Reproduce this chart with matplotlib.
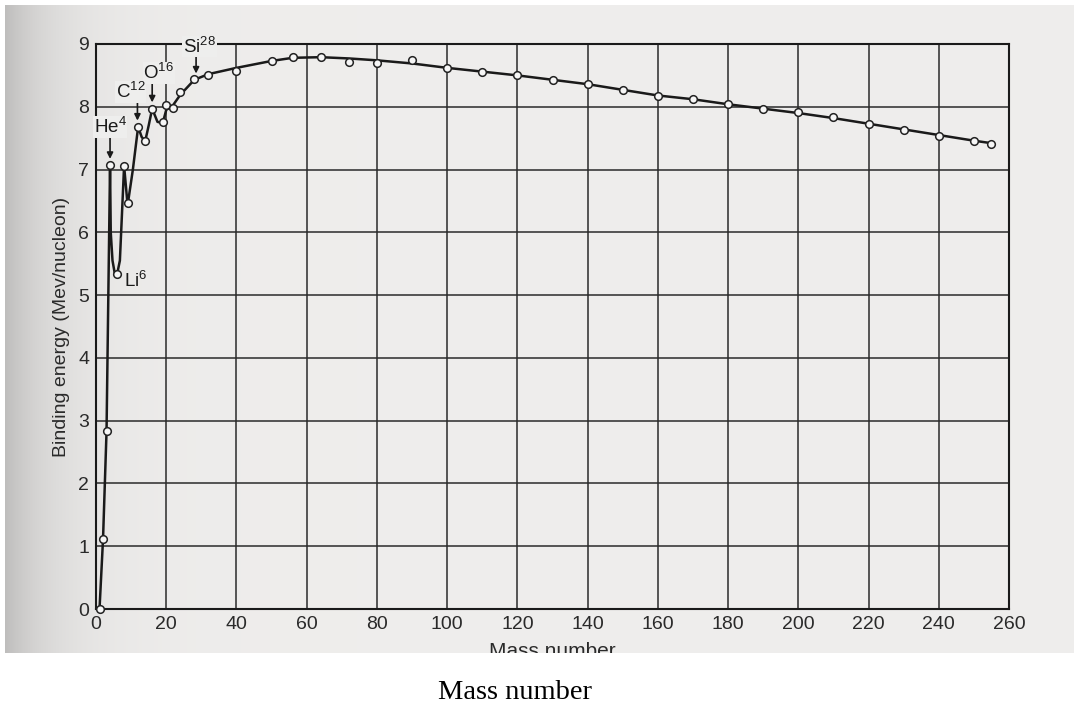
import numpy as np
import matplotlib.pyplot as plt
from matplotlib.patches import Rectangle

# points (mass number, binding energy per nucleon)
mass = [1, 2, 3, 4, 6, 8, 9, 12, 14, 16, 19, 20, 22, 24, 28, 32, 40, 50, 56,
        64, 72, 80, 90, 100, 110, 120, 130, 140, 150, 160, 170, 180, 190,
        200, 210, 220, 230, 240, 250, 255]
energy = [0.0, 1.11, 2.83, 7.07, 5.33, 7.06, 6.46, 7.68, 7.45, 7.97, 7.75,
          8.03, 7.98, 8.24, 8.44, 8.51, 8.57, 8.73, 8.79,
          8.79, 8.72, 8.69, 8.74, 8.62, 8.56, 8.50, 8.42, 8.37, 8.27, 8.17,
          8.13, 8.05, 7.97, 7.91, 7.83, 7.72, 7.63, 7.54, 7.46, 7.41]

# the drawn curve (knots)
curve_x = [1, 2, 3, 4, 4.2, 4.7, 5.3, 6, 6.8, 7.4, 8, 9, 10.5, 12, 13, 14,
           15, 16, 17.5, 19, 20, 22, 24, 28, 32, 40, 50, 56, 64, 72, 80, 90,
           100, 110, 120, 130, 140, 150, 160, 170, 180, 190, 200, 210, 220,
           230, 240, 250, 255]
curve_y = [0.0, 1.11, 2.83, 7.07, 6.0, 5.55, 5.36, 5.33, 5.55, 6.3, 7.06,
           6.43, 7.0, 7.68, 7.52, 7.45, 7.7, 7.97, 7.76, 7.74, 7.95, 8.03,
           8.19, 8.43, 8.52, 8.62, 8.73, 8.78, 8.79, 8.77, 8.74, 8.69, 8.62,
           8.56, 8.50, 8.43, 8.36, 8.27, 8.18, 8.12, 8.04, 7.97, 7.90, 7.82,
           7.73, 7.64, 7.55, 7.46, 7.42]

# element labels: text, arrow tip (x, y), text position (x, y)
labels = ['He$^4$', 'C$^{12}$', 'O$^{16}$', 'Si$^{28}$']
tips = [(4, 7.17), (11.8, 7.78), (16, 8.07), (28.5, 8.53)]
text_pos = [(4.0, 7.68), (9.8, 8.24), (17.9, 8.54), (29.5, 8.96)]

xticks = list(range(0, 261, 20))
yticks = list(range(0, 10))

plt.rcParams['font.family'] = ['Liberation Sans', 'DejaVu Sans']
plt.rcParams['mathtext.fontset'] = 'custom'
plt.rcParams['mathtext.rm'] = 'Liberation Sans'
plt.rcParams['mathtext.it'] = 'Liberation Sans'

paper = '#eeeeed'

fig = plt.figure(figsize=(10.74, 7.05), dpi=100)

# scanned page background with darker left edge
bg = fig.add_axes([0, 0, 1, 1])
bg.set_xlim(0, 1074)
bg.set_ylim(705, 0)
bg.axis('off')
xs = np.arange(1074)
shade = 0.935 - 0.17 * np.exp(-(xs - 5) / 50.0)
shade = np.clip(shade, 0, 1)
img = np.repeat(shade[None, :], 10, axis=0)
rgb = np.stack([img, img * 0.995, img * 0.99], axis=-1)
bg.imshow(rgb, extent=(5, 1074, 653, 5), aspect='auto', interpolation='bilinear')

ax = fig.add_axes([96 / 1074, 96 / 705, 913 / 1074, 565 / 705])
ax.set_facecolor('none')

ax.plot(curve_x, curve_y, color='#1a1a1a', lw=1.8, zorder=3)
ax.plot(mass, energy, 'o', ms=5.5, mfc='#f6f6f6', mec='#222222', mew=1.1,
        zorder=4, clip_on=False)

for i, (lab, tip, pos) in enumerate(zip(labels, tips, text_pos)):
    ax.annotate('', xy=tip, xytext=(tip[0], pos[1] - 0.15),
                arrowprops=dict(arrowstyle='-|>', color='#1a1a1a', lw=1.2,
                                mutation_scale=9, shrinkA=0, shrinkB=0),
                zorder=5, annotation_clip=False)
    ax.text(pos[0], pos[1], lab, fontsize=13.5, ha='center', va='center',
            color='#1a1a1a', zorder=10 - i, clip_on=False,
            bbox=dict(facecolor=paper, edgecolor='none', pad=0.6))
ax.text(11.2, 5.22, 'Li$^6$', fontsize=13.5, ha='center', va='center',
        color='#1a1a1a', zorder=6)

ax.set_xlim(0, 260)
ax.set_ylim(0, 9)
ax.set_xticks(xticks)
ax.set_yticks(yticks)
ax.tick_params(length=0, labelsize=14, colors='#2a2a2a', pad=5)
ax.grid(True, color='#2a2a2a', lw=1.1)
ax.set_axisbelow(True)
for s in ax.spines.values():
    s.set_color('#1a1a1a')
    s.set_linewidth(1.5)

ax.set_ylabel('Binding energy (Mev/nucleon)', fontsize=14, color='#2a2a2a')
ax.yaxis.set_label_coords(-0.029, 0.5)
ax.set_xlabel('Mass number', fontsize=15, color='#2a2a2a', va='top')
ax.xaxis.set_label_coords(0.5, -0.058)

# white strip below the scan, with the caption
fig.add_artist(Rectangle((0, 0), 1, 52 / 705, transform=fig.transFigure,
                         facecolor='white', edgecolor='none', zorder=10))
fig.text(515 / 1074, 6 / 705, 'Mass number', family='Liberation Serif',
         fontsize=20.5, ha='center', va='baseline', zorder=11)

fig.savefig('out.png', dpi=100, facecolor='white')
